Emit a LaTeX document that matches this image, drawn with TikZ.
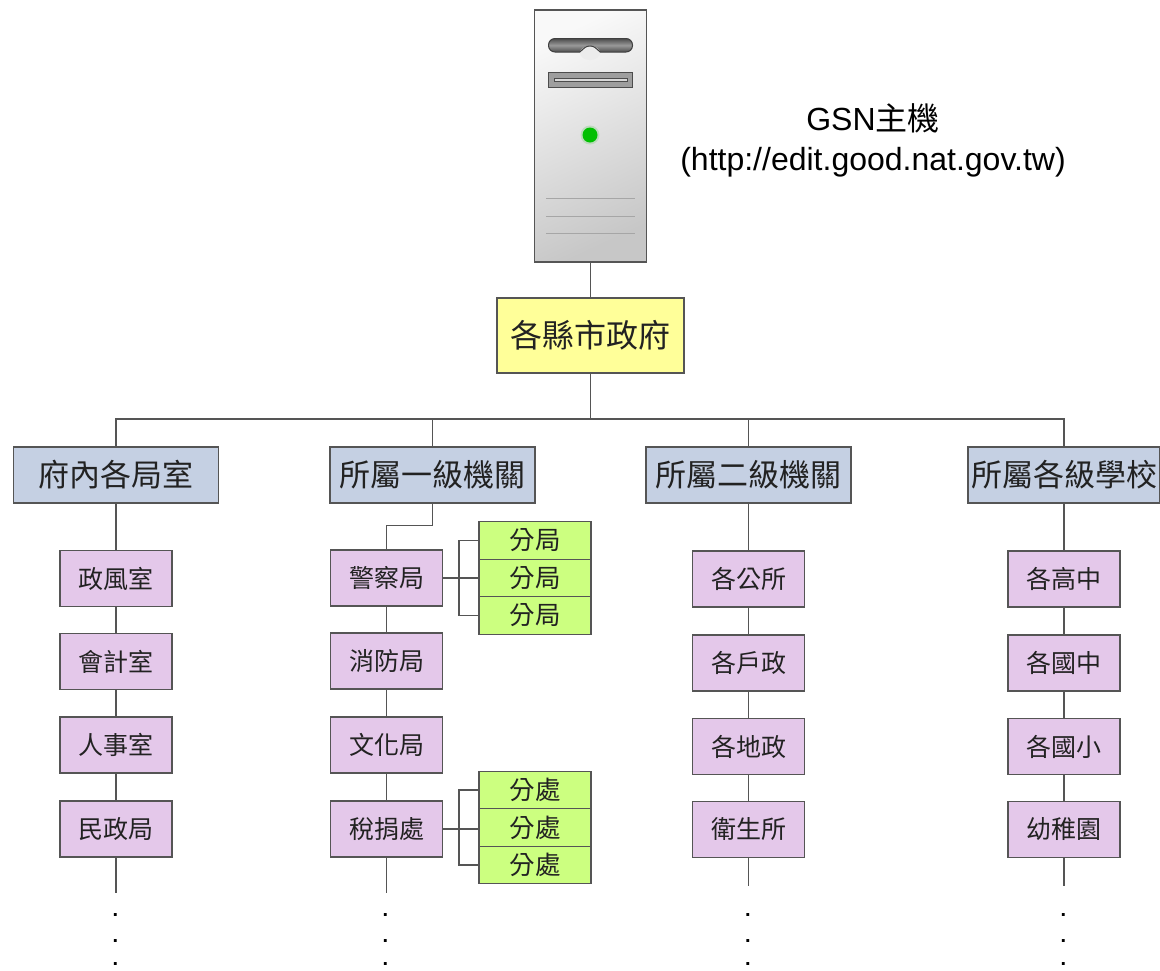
\documentclass[tikz,border=0pt]{standalone}
\usepackage{fontspec}
\setmainfont{Liberation Sans}
\newfontfamily\cjk{Noto Sans CJK TC}[Scale=1]
\definecolor{bluebox}{HTML}{C5D0E3}
\definecolor{purplebox}{HTML}{E4C8EA}
\definecolor{greenbox}{HTML}{CCFF80}
\definecolor{yellowbox}{HTML}{FFFF99}
\definecolor{edge}{HTML}{555555}
\definecolor{txt}{HTML}{222222}
\tikzset{
  x=1pt,y=-1pt,
  base box/.style={draw=edge,line width=1.3pt,inner sep=0pt,align=center,text=txt,font=\cjk},
  topbox/.style={base box,fill=yellowbox,minimum width=187pt,minimum height=75pt,font=\cjk\fontsize{32}{36}\selectfont},
  bluenode/.style={base box,fill=bluebox,minimum width=205pt,minimum height=56pt,font=\cjk\fontsize{31}{34}\selectfont},
  purplenode/.style={base box,fill=purplebox,minimum width=112pt,minimum height=56pt,font=\cjk\fontsize{25}{30}\selectfont},
  greennode/.style={base box,fill=greenbox,minimum width=112pt,minimum height=37.5pt,font=\cjk\fontsize{25.5}{30}\selectfont},
  link/.style={draw=edge,line width=1.2pt},
  dotmark/.style={anchor=base,inner sep=0pt,text=black,font=\fontsize{20}{22}\selectfont\bfseries},
  caption/.style={align=center,text=black,inner sep=0pt,font=\fontsize{32}{40}\selectfont},
}
\begin{document}
\begin{tikzpicture}
\useasboundingbox (0,0) rectangle (1160,970);
\fill[white] (0,0) rectangle (1160,970);
% server
\node[draw=edge,line width=1.3pt,minimum width=112pt,minimum height=252pt,inner sep=0pt,
  shading=axis,top color=white!95!gray,bottom color=black!22,shading angle=25] (server) at (590.5,136) {};
\draw[draw=black!75,line width=1pt,top color=black!70,bottom color=black!70,middle color=black!40,rounded corners=6.5pt]
  (548.5,38.5) rectangle (632.5,52);
\fill[white!85!gray] (590,53) ellipse (10 and 7);
\draw[black!75,line width=1pt] (580,52) .. controls (584,48) and (586,46) .. (590,46) .. controls (594,46) and (596,48) .. (600,52);
\draw[draw=black!70,line width=1pt,fill=black!38] (548.5,72.5) rectangle (632.5,87);
\draw[draw=black!70,line width=1pt,fill=black!15] (554,78) rectangle (627,81.5);
\fill[green!60!black!40!white,opacity=.5] (590,135) circle (9.5);
\fill[green!75!black] (590,135) circle (7.5);
\draw[black!35,line width=.8pt] (546,198) -- (635,198);
\draw[black!35,line width=.8pt] (546,216) -- (635,216);
\draw[black!35,line width=.8pt] (546,233) -- (635,233);
% caption
\node[caption] (cap) at (873,140) {GSN{\cjk 主機}\\(http://edit.good.nat.gov.tw)};
% top
\node[topbox] (gov) at (590.5,335.5) {各縣市政府};
\draw[link] (server.south) -- (gov.north);
% level 2
\node[bluenode] (b1) at (116,475) {府內各局室};
\node[bluenode] (b2) at (432.5,475) {所屬一級機關};
\node[bluenode] (b3) at (748.5,475) {所屬二級機關};
\node[bluenode,minimum width=192pt] (b4) at (1064,475) {所屬各級學校};
\coordinate (bus) at (590.5,419);
\draw[link] (gov.south) -- (bus);
\draw[link] (b1.north) |- (bus) -| (b4.north);
\draw[link] (b2.north) -- (b2.north |- bus);
\draw[link] (b3.north) -- (b3.north |- bus);
% col 1
\node[purplenode] (a1) at (116,578.5) {政風室};
\node[purplenode] (a2) at (116,661.5) {會計室};
\node[purplenode] (a3) at (116,745) {人事室};
\node[purplenode] (a4) at (116,829) {民政局};
\coordinate (a5) at (116,893);
\draw[link] (b1) -- (a1);
\draw[link] (a1) -- (a2);
\draw[link] (a2) -- (a3);
\draw[link] (a3) -- (a4);
\draw[link] (a4) -- (a5);
% col 2
\node[purplenode] (c1) at (386.5,578) {警察局};
\node[purplenode] (c2) at (386.5,661) {消防局};
\node[purplenode] (c3) at (386.5,745) {文化局};
\node[purplenode] (c4) at (386.5,829) {稅捐處};
\coordinate (c5) at (386.5,893);
\draw[link] (b2.south) -- ++(0,22) -| (c1.north);
\draw[link] (c1) -- (c2);
\draw[link] (c2) -- (c3);
\draw[link] (c3) -- (c4);
\draw[link] (c4) -- (c5);
% col 3
\node[purplenode] (d1) at (748.5,579) {各公所};
\node[purplenode] (d2) at (748.5,663) {各戶政};
\node[purplenode] (d3) at (748.5,746.5) {各地政};
\node[purplenode] (d4) at (748.5,829.5) {衛生所};
\coordinate (d5) at (748.5,886);
\draw[link] (b3) -- (d1);
\draw[link] (d1) -- (d2);
\draw[link] (d2) -- (d3);
\draw[link] (d3) -- (d4);
\draw[link] (d4) -- (d5);
% col 4
\node[purplenode] (e1) at (1064,579) {各高中};
\node[purplenode] (e2) at (1064,663) {各國中};
\node[purplenode] (e3) at (1064,746.5) {各國小};
\node[purplenode] (e4) at (1064,829.5) {幼稚園};
\coordinate (e5) at (1064,886);
\draw[link] (b4) -- (e1);
\draw[link] (e1) -- (e2);
\draw[link] (e2) -- (e3);
\draw[link] (e3) -- (e4);
\draw[link] (e4) -- (e5);
% green
\node[greennode] (g1) at (535,540.5) {分局};
\node[greennode] (g2) at (535,578) {分局};
\node[greennode] (g3) at (535,615.5) {分局};
\node[greennode] (h1) at (535,790) {分處};
\node[greennode] (h2) at (535,827.5) {分處};
\node[greennode] (h3) at (535,865) {分處};
\coordinate (gj) at (459,578);
\coordinate (hj) at (459,829);
\draw[link] (c1) -- (g2);
\draw[link] (g1.west) -| (gj) |- (g3.west);
\draw[link] (c4.east) -- (c4.east -| h2.west);
\draw[link] (h1.west) -| (hj) |- (h3.west);
% dots
\foreach \n/\x in {p/115.5,q/385.5,r/748,s/1063.5}{
  \node[dotmark] (\n1) at (\x,916) {.};
  \node[dotmark] (\n2) at (\x,942) {.};
  \node[dotmark] (\n3) at (\x,965.5) {.};
}
\end{tikzpicture}
\end{document}
